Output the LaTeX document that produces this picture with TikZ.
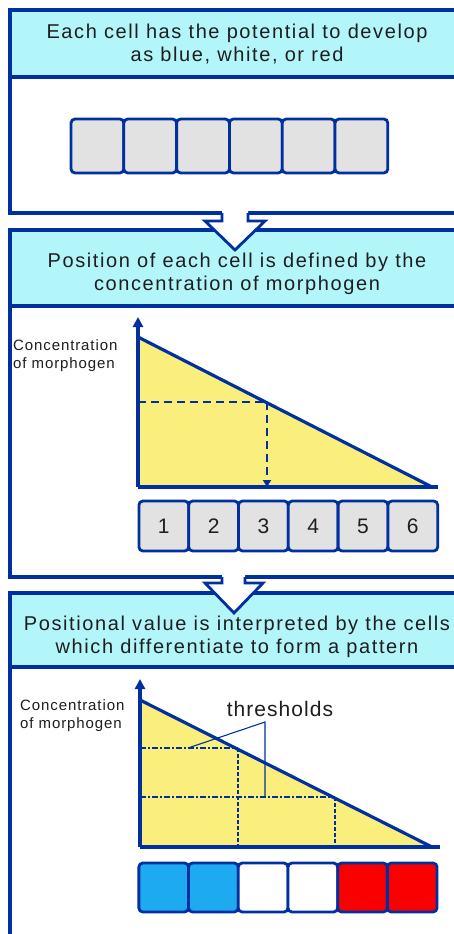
\documentclass[tikz,border=0pt]{standalone}
\usepackage{fontspec}
\setmainfont{Liberation Sans}
\usetikzlibrary{arrows.meta}
\definecolor{fr}{RGB}{0,48,160}
\definecolor{headcyan}{RGB}{178,246,250}
\definecolor{yel}{RGB}{250,238,125}
\definecolor{cellgray}{RGB}{226,226,226}
\definecolor{cellblue}{RGB}{30,170,240}
\definecolor{cellred}{RGB}{250,0,0}
\definecolor{txt}{RGB}{30,30,30}
\tikzset{
  framebox/.style={draw=fr, line width=3.2pt},
  headtext/.style={align=center, text=txt, font=\fontsize{20}{22.5}\selectfont\addfontfeature{LetterSpace=8}},
  cell/.style={draw=fr, line width=2.8pt, rounded corners=4pt, inner sep=0pt, minimum height=#1},
  celltext/.style={text=txt, font=\fontsize{21}{22}\selectfont},
  conclabel/.style={align=left, anchor=north west, inner sep=0pt, text=txt, font=\fontsize{15}{18}\selectfont\addfontfeature{LetterSpace=6}},
  axis/.style={draw=fr, line width=3.2pt},
  slope/.style={draw=fr, line width=3.2pt},
  dashline/.style={draw=fr, line width=2.8pt, dash pattern=on 8pt off 5pt},
  thrh/.style={draw=fr, line width=2.6pt, dash pattern=on 6pt off 2pt on 2pt off 2pt},
  thrv/.style={draw=fr, line width=2.6pt, dash pattern=on 4pt off 2pt},
  leader/.style={draw=fr, line width=1.1pt},
  bigarrow/.style={draw=fr, line width=2.8pt, line join=miter},
}
\begin{document}
\begin{tikzpicture}[x=1pt,y=-1pt]
\useasboundingbox (0,0) rectangle (453,934);
\fill[white] (0,0) rectangle (453,934);

% ---------- panel 1 ----------
\filldraw[framebox, fill=white] (10,10) rectangle (470,213);
\filldraw[framebox, fill=headcyan] (10,10) rectangle (470,77);
\node[headtext] (h1) at (237,44) {Each cell has the potential to develop\\as blue, white, or red};
\foreach \i in {0,...,5}{
  \node[cell=54pt, fill=cellgray, minimum width=52.8pt] (a\i) at ({97.4+52.8*\i},146) {};
}

% ---------- panel 2 ----------
\filldraw[framebox, fill=white] (10,230) rectangle (470,577);
\filldraw[framebox, fill=headcyan] (10,230) rectangle (470,306);
\node[headtext] (h2) at (237,274) {Position of each cell is defined by the\\concentration of morphogen};
\node[conclabel] (c2) at (13,339) {Concentration\\of morphogen};

\coordinate (o2) at (138,487);
\coordinate (y2) at (138,317);
\coordinate (x2) at (438,487);
\coordinate (t2) at (138,337);
\coordinate (e2) at (432,487);
\coordinate (p2) at (267,402);
\coordinate (q2) at (138,402);
\coordinate (r2) at (267,487);
\fill[yel] (t2) -- (e2) -- (o2) -- cycle;
\draw[dashline] (q2) -- (p2);
\draw[dashline, -{Triangle[width=8pt,length=7pt]}] (p2) -- (r2);
\draw[slope] (t2) -- (e2);
\draw[axis] (o2) -- (x2);
\draw[axis, -{Triangle[width=10pt,length=10pt]}] (o2) -- (y2);
\foreach \i in {1,...,6}{
  \node[cell=50pt, fill=cellgray, minimum width=49.8pt, celltext] (b\i) at ({114+49.8*\i},526) {\i};
}

% ---------- panel 3 ----------
\filldraw[framebox, fill=white] (10,593) rectangle (470,960);
\filldraw[framebox, fill=headcyan] (10,593) rectangle (470,667);
\node[headtext] (h3) at (237,637) {Positional value is interpreted by the cells\\which differentiate to form a pattern};
\node[conclabel] (c3) at (20,699) {Concentration\\of morphogen};

\coordinate (o3) at (140,847);
\coordinate (y3) at (140,679);
\coordinate (x3) at (440,847);
\coordinate (t3) at (140,700);
\coordinate (e3) at (432,847);
\coordinate (s1) at (238,748);
\coordinate (s1l) at (140,748);
\coordinate (s1b) at (238,847);
\coordinate (s2) at (335,797);
\coordinate (s2l) at (140,797);
\coordinate (s2b) at (335,847);
\fill[yel] (t3) -- (e3) -- (o3) -- cycle;
\draw[thrh] (s1l) -- (s1);
\draw[thrh] (s2l) -- (s2);
\draw[thrv] (s1) -- (s1b);
\draw[thrv] (s2) -- (s2b);
\node[text=txt, font=\fontsize{21}{22}\selectfont\addfontfeature{LetterSpace=5}] (thr) at (280,709) {thresholds};
\coordinate (lv) at (265,722);
\coordinate (la) at (188,748);
\coordinate (lb) at (265,797);
\draw[leader] (la) -- (lv) -- (lb);
\draw[slope] (t3) -- (e3);
\draw[axis] (o3) -- (x3);
\draw[axis, -{Triangle[width=10pt,length=10pt]}] (o3) -- (y3);
\foreach \i/\c in {1/cellblue,2/cellblue,3/white,4/white,5/cellred,6/cellred}{
  \node[cell=49pt, fill=\c, minimum width=49.7pt] (d\i) at ({114+49.7*\i},887.5) {};
}

% ---------- arrows between panels ----------
\fill[white] (222,210) -- (222,221) -- (205,221) -- (235,250) -- (265,221) -- (248,221) -- (248,210) -- cycle;
\draw[bigarrow] (222,213) -- (222,221) -- (205,221) -- (235,250) -- (265,221) -- (248,221) -- (248,213);
\fill[white] (222,574) -- (222,583) -- (205,583) -- (234,613) -- (263,583) -- (245,583) -- (245,574) -- cycle;
\draw[bigarrow] (222,577) -- (222,583) -- (205,583) -- (234,613) -- (263,583) -- (245,583) -- (245,577);
\end{tikzpicture}
\end{document}
